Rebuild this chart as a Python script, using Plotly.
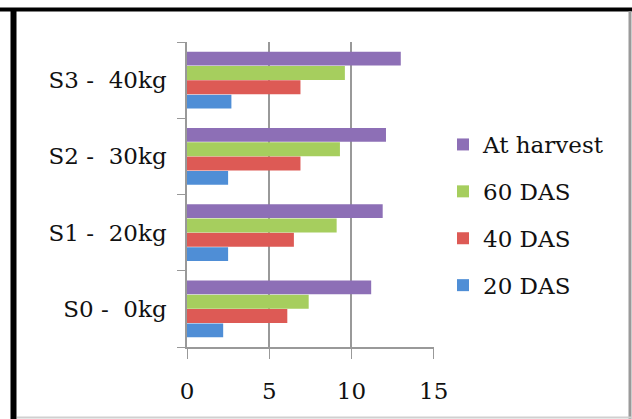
import plotly.graph_objects as go

categories = ["S0 -\u00a0 0kg", "S1 -\u00a0 20kg", "S2 -\u00a0 30kg", "S3 -\u00a0 40kg"]
series_names = ["20 DAS", "40 DAS", "60 DAS", "At harvest"]
das20 = [2.2, 2.5, 2.5, 2.7]
das40 = [6.1, 6.5, 6.9, 6.9]
das60 = [7.4, 9.1, 9.3, 9.6]
harvest = [11.2, 11.9, 12.1, 13.0]
x_ticks = [0, 5, 10, 15]

colors = ["#4F8ED6", "#DD5A55", "#A6CE5E", "#8D6FB6"]
FONT = "DejaVu Serif"

fig = go.Figure()
for i, (name, vals, col) in enumerate(zip(series_names, [das20, das40, das60, harvest], colors)):
    fig.add_trace(go.Bar(
        y=categories, x=vals, name=name, orientation="h",
        marker=dict(color=col, line=dict(width=0)),
        legendgroup=name, legendrank=10 - i,
    ))

L, R, T, B = 187, 198, 42, 72
W, H = 632, 419
pw, ph = W - L - R, H - T - B

def px(x):
    return (x - L) / pw

def py(y):
    return 1 - (y - T) / ph

shapes = [
    dict(type="line", xref="paper", yref="paper", x0=px(0), x1=px(632), y0=py(9.5), y1=py(9.5),
         line=dict(color="black", width=4)),
    dict(type="line", xref="paper", yref="paper", x0=px(13.5), x1=px(13.5), y0=py(8), y1=py(419),
         line=dict(color="black", width=6)),
    dict(type="line", xref="paper", yref="paper", x0=px(630), x1=px(630), y0=py(11), y1=py(419),
         line=dict(color="#9a9a9a", width=3)),
    dict(type="line", xref="paper", yref="paper", x0=px(17), x1=px(632), y0=py(417.5), y1=py(417.5),
         line=dict(color="#d0d0d0", width=2)),
]

fig.update_layout(
    width=W, height=H,
    margin=dict(l=L, r=R, t=T, b=B),
    paper_bgcolor="white", plot_bgcolor="white",
    barmode="group", bargap=0.25, bargroupgap=0.03,
    font=dict(family=FONT, size=23, color="#111111"),
    xaxis=dict(range=[0, 15.02], tickvals=x_ticks, ticktext=[str(v) for v in x_ticks],
               ticks="outside", ticklen=10, tickcolor="#999999",
               showline=True, linecolor="#999999", linewidth=1.5,
               showgrid=True, gridcolor="#999999", gridwidth=1.5, zeroline=False,
               ticklabelstandoff=13, tickfont=dict(size=23)),
    yaxis=dict(type="category", categoryorder="array", categoryarray=categories,
               tickson="boundaries", ticks="outside", ticklen=8, tickcolor="#999999",
               showline=True, linecolor="#999999", linewidth=1.5, showgrid=False,
               ticklabelstandoff=14, tickfont=dict(size=23)),
    legend=dict(x=px(443), y=py(123), xanchor="left", yanchor="top",
                traceorder="grouped", tracegroupgap=14,
                font=dict(size=23), bgcolor="rgba(0,0,0,0)"),
    shapes=shapes,
    showlegend=True,
)

fig.write_html("out.html", post_script="document.body.style.margin='0';",
               config={"displayModeBar": False})
